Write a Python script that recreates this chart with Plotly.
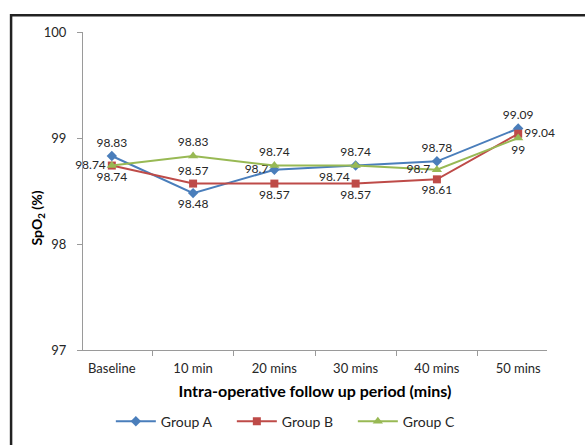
import plotly.graph_objects as go

periods = ["Baseline", "10 min", "20 mins", "30 mins", "40 mins", "50 mins"]
group_a = [98.83, 98.48, 98.7, 98.74, 98.78, 99.09]
group_b = [98.74, 98.57, 98.57, 98.57, 98.61, 99.04]
group_c = [98.74, 98.83, 98.74, 98.74, 98.7, 99]

pos_a = ["top center", "bottom center", "middle left", "bottom left", "top center", "top center"]
pos_b = ["middle left", "top center", "bottom center", "bottom center", "bottom center", "middle right"]
pos_c = ["bottom center", "top center", "top center", "top center", "middle left", "bottom center"]

FONT = "Lato, 'Open Sans', sans-serif"

fig = go.Figure()
series = [
    ("Group A", group_a, pos_a, "#4A7EBB", "diamond", 8),
    ("Group B", group_b, pos_b, "#BE4B48", "square", 8),
    ("Group C", group_c, pos_c, "#98B954", "triangle-up", 9),
]
for name, vals, pos, color, symbol, size in series:
    fig.add_trace(go.Scatter(
        x=periods, y=vals, name=name, mode="lines+markers+text",
        line=dict(color=color, width=2),
        marker=dict(symbol=symbol, size=size, color=color),
        text=[f"{v:g}" for v in vals], textposition=pos,
        textfont=dict(family=FONT, size=12, color="#262626"),
        cliponaxis=False,
    ))

fig.update_layout(
    width=585, height=445,
    margin=dict(l=83, r=38, t=32, b=95, autoexpand=False),
    paper_bgcolor="white", plot_bgcolor="white",
    font=dict(family=FONT, color="#404040"),
    showlegend=True,
    legend=dict(orientation="h", x=0.06, xanchor="left", y=-0.175, yanchor="top",
                font=dict(family=FONT, size=14, color="#262626"),
                itemwidth=40, entrywidth=66, entrywidthmode="pixels",
                tracegroupgap=0),
    xaxis=dict(
        type="category", showgrid=False, showline=True, linecolor="#9a9a9a",
        automargin=False,
        ticks="outside", tickson="boundaries", ticklen=5, tickcolor="#9a9a9a",
        ticklabelstandoff=6,
        tickfont=dict(family=FONT, size=13, color="#262626"),
        title=dict(text="<b>Intra-operative follow up period (mins)</b>",
                   font=dict(family=FONT, size=16, color="#000000"), standoff=11),
    ),
    yaxis=dict(
        range=[97, 100], tickvals=[97, 98, 99, 100], showgrid=False, zeroline=False,
        automargin=False,
        showline=True, linecolor="#9a9a9a", ticks="outside", ticklen=5,
        ticklabelstandoff=8,
        tickcolor="#9a9a9a", tickfont=dict(family=FONT, size=13, color="#262626"),
    ),
)

# Y axis title, placed a bit below the plot's mid-height
fig.add_annotation(text="<b>SpO<sub>2</sub> (%)</b>", xref="paper", yref="paper",
                   x=-0.098, y=0.415, textangle=-90, showarrow=False,
                   xanchor="center", yanchor="middle",
                   font=dict(family=FONT, size=14, color="#000000"))

# Outer chart frame (top and left edges)
fig.add_shape(type="path", xref="paper", yref="paper",
              path="M -0.155,-0.35 L -0.155,1.053 L 1.1,1.053",
              line=dict(color="#222222", width=2.5))

fig.write_html("out.html")
